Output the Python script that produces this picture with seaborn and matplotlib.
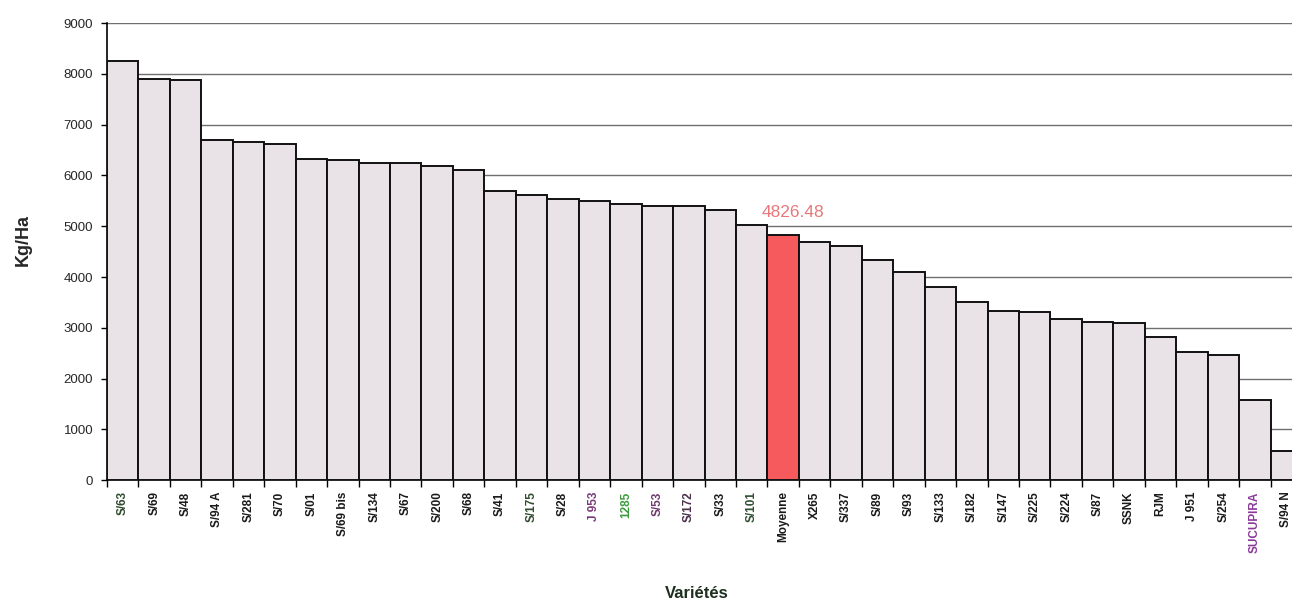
import numpy as np
import pandas as pd
import matplotlib
matplotlib.use("Agg")
import matplotlib.pyplot as plt
import seaborn as sns

# Yield per variety (kg/ha), sorted from highest to lowest, with the overall mean
varieties = [
    "S/63", "S/69", "S/48", "S/94 A", "S/281", "S/70", "S/01", "S/69 bis",
    "S/134", "S/67", "S/200", "S/68", "S/41", "S/175", "S/28", "J 953",
    "1285", "S/53", "S/172", "S/33", "S/101", "Moyenne", "X265", "S/337",
    "S/89", "S/93", "S/133", "S/182", "S/147", "S/225", "S/224", "S/87",
    "SSNK", "RJM", "J 951", "S/254", "SUCUPIRA", "S/94 N",
]
yields = [
    8250, 7900, 7870, 6700, 6660, 6610, 6320, 6310,
    6250, 6245, 6180, 6100, 5700, 5620, 5540, 5490,
    5445, 5390, 5390, 5310, 5030, 4826.48, 4690, 4610,
    4330, 4090, 3800, 3500, 3340, 3310, 3180, 3110,
    3100, 2820, 2520, 2460, 1580, 575,
]
mean_label = "Moyenne"
y_ticks = [0, 1000, 2000, 3000, 4000, 5000, 6000, 7000, 8000, 9000]

df = pd.DataFrame({"Variété": varieties, "Rendement": yields})

bar_fill = "#e9e3e8"
mean_fill = "#f65a5c"
palette = {v: (mean_fill if v == mean_label else bar_fill) for v in varieties}

# a few labels printed in colour
label_colors = {
    "J 953": "#7a3a7a", "1285": "#3d9a3d", "S/53": "#6e3a6e",
    "S/172": "#4a2f4a", "S/101": "#2f4f2f", "SUCUPIRA": "#8a3a9a",
    "S/63": "#2f4a2f", "S/175": "#2f4a2f",
}

sns.set_style("white")
plt.rcParams["font.family"] = ["Liberation Sans", "DejaVu Sans"]

fig = plt.figure(figsize=(12.92, 6.05), dpi=100)
ax = fig.add_axes([107 / 1292, 124.7 / 605, 1195 / 1292, 457.3 / 605])

sns.barplot(
    data=df, x="Variété", y="Rendement", hue="Variété", palette=palette,
    order=varieties, hue_order=varieties, width=1.0, saturation=1,
    edgecolor="#111111", linewidth=1.4, legend=False, ax=ax, zorder=3,
)

ax.set_xlim(-0.5, len(varieties) - 0.5)
ax.set_ylim(0, 9000)
ax.set_yticks(y_ticks)
ax.set_yticklabels([str(t) for t in y_ticks], fontsize=9.5)
ax.yaxis.grid(True, color="#6f6f6f", linewidth=1.0)
ax.xaxis.grid(False)
ax.set_axisbelow(True)

# category labels at bar centres, tick marks between bars
ax.set_xticks(range(len(varieties)))
ax.set_xticklabels(varieties, rotation=90, fontsize=8.5, fontweight="bold")
ax.set_xticks(np.arange(-0.5, len(varieties), 1.0), minor=True)
ax.tick_params(axis="x", which="major", length=0, pad=8)
ax.tick_params(axis="x", which="minor", length=5, width=1, color="black",
               direction="out", bottom=True)
ax.tick_params(axis="y", length=4, width=1, color="black", direction="out",
               left=True, pad=6)
for lbl in ax.get_xticklabels():
    lbl.set_color(label_colors.get(lbl.get_text(), "#1a1a1a"))

for side in ("top", "right"):
    ax.spines[side].set_visible(False)
for side in ("left", "bottom"):
    ax.spines[side].set_color("black")
    ax.spines[side].set_linewidth(1.2)

# mean value above its bar
mi = varieties.index(mean_label)
mv = yields[mi]
ax.text(mi + 0.3, mv + 300, f"{mv:.2f}", color="#e8787c", fontsize=12.5,
        ha="center", va="bottom")

ax.set_xlabel("Variétés", fontsize=12, fontweight="bold", color="#1f2f1f")
ax.xaxis.set_label_coords((697 - 107) / 1195, -106 / 457.3)
ax.set_ylabel("Kg/Ha", fontsize=13, fontweight="bold")
ax.yaxis.set_label_coords(-75 / 1195, (480.3 - 240) / 457.3)

fig.savefig("out.png", dpi=100)
